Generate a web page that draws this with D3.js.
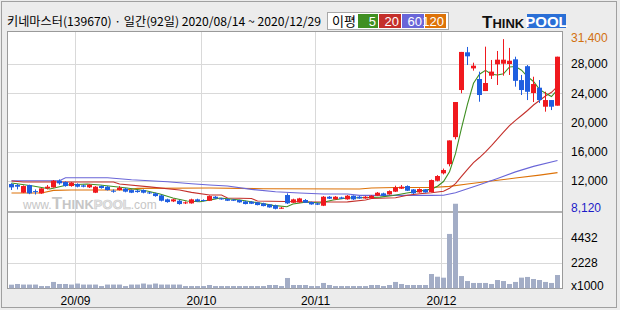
<!DOCTYPE html>
<html>
<head>
<meta charset="utf-8">
<script src="https://cdn.jsdelivr.net/npm/d3@7"></script>
<style>
body { margin: 0; background: #ececec; }
text { font-family: "Liberation Sans", Arial, sans-serif; }
</style>
</head>
<body>
<svg id="chart" width="620" height="310"></svg>
<script>
// daily candles 2020/08/14 ~ 2020/12/29 (92 trading days)
let opens = [11584,11450,10400,11450,10620,10310,10990,11130,12040,11860,
  11310,11580,11400,11130,10400,11310,11220,10670,10760,10950,
  10760,10670,10760,10440,10310,10030,9490,9210,9300,8940,
  8940,9490,9400,9300,9850,9620,9530,9440,9400,9210,
  9170,9080,8940,8800,8670,8250,10080,9030,9080,9400,
  9120,8940,8620,9850,9490,9760,9490,9990,9850,9620,
  9620,9990,10310,10170,10540,10950,11310,10850,10440,10850,
  10490,12030,13050,14300,18000,24440,29600,27400,25950,24300,
  26400,27960,28040,28000,28640,25800,27700,24030,24760,22160,
  23070,22300];
let highs = [11700,11600,11400,11500,10850,11000,11450,12130,12220,11950,
  11860,11680,11500,11580,11300,11400,11300,10850,11300,11040,
  10850,10760,10850,10540,10400,10120,9580,9580,9400,9210,
  9580,9580,9490,10030,9940,9700,9620,9530,9440,9300,
  9260,9120,9030,8850,8760,8440,10310,9580,9700,9530,
  9170,9030,9940,9940,9940,9850,10080,10030,9940,9940,
  10080,10490,10400,10720,11360,11450,11400,10900,10990,10900,
  12200,12800,13700,17550,22800,29650,30330,28180,26950,30370,
  28550,29780,31400,30200,29000,26500,27860,26260,25810,24210,
  23070,29000];
let lows = [10770,10850,10350,10200,10150,10250,10850,11100,11500,11220,
  11220,11130,11130,11040,10350,10950,10700,10400,10700,10450,
  10350,10400,10310,10220,9850,9210,9030,9120,8760,8850,
  8900,9120,9210,9260,9530,9440,9260,9260,9030,8800,
  8850,8670,8530,8350,8120,8200,8850,8990,9030,8990,
  8760,8710,8570,9530,9440,9530,9440,9400,9580,9580,
  9580,9940,9940,10120,10490,10900,10630,10220,10400,10400,
  10440,11950,12900,14000,17700,24000,27860,27090,22840,24300,
  25950,25130,26400,26500,24900,23760,23070,22800,22660,21480,
  21700,22300];
let closes = [11128,11220,11310,10310,10500,10990,11220,12040,11680,11310,
  11770,11220,11220,11500,11220,11040,10760,10540,11080,10540,
  10400,10490,10400,10310,9940,9300,9120,9490,8850,9080,
  9490,9210,9300,9940,9620,9490,9300,9300,9080,8850,
  8890,8710,8570,8390,8200,8350,8940,9490,9620,9030,
  8800,8760,9850,9580,9850,9580,9990,9490,9620,9850,
  9990,10400,9990,10620,11130,11220,10670,10310,10900,10440,
  12130,12680,13500,17550,22800,29650,29050,27770,23760,25400,
  26960,28590,28590,28450,25700,24440,24200,25260,23070,23070,
  22160,29000];
// volume, x1000 shares
let volumes = [320,380,330,330,330,200,200,560,380,380,
  330,420,330,330,330,200,330,330,330,200,
  330,330,420,330,420,330,330,330,330,200,
  200,200,200,290,200,200,200,200,200,200,
  200,200,200,290,290,200,910,290,290,290,
  200,200,470,290,200,200,200,200,200,200,
  290,290,200,290,560,380,290,290,290,290,
  1260,1020,935,4790,7450,1080,640,470,470,470,
  380,730,640,380,560,940,1000,820,730,560,
  470,1170];

// moving averages: [day index, price]
let ma5 = [[0,11720],[3.6,11310],[6.4,10900],[9.25,11450],[12.6,11580],[14.75,11450],
  [19.25,11040],[22.6,10630],[24.75,10220],[26.9,9670],[29.25,9260],[31.4,9160],
  [33.6,9490],[34.75,9670],[38.1,9400],[41.4,8985],[43.6,8670],[45.9,8480],
  [46.9,8850],[49.25,9120],[51.4,8985],[53.6,9400],[55.9,9670],[58.1,9710],
  [61.4,9800],[63.6,10010],[65.9,10350],[68.1,10630],[70,10890],[71,11290],
  [72,11930],[73,13260],[74,15730],[75,19240],[76,22510],[77,25360],[78,26610],
  [79,27130],[80,26590],[81,26500],[82,26660],[83,27600],[84,27660],[85,27150],
  [86,26280],[87,25610],[88,24530],[89,24010],[90,23550],[91,24510]];
let ma20 = [[0,12000],[2,11860],[17,11860],[18,11580],[23,11200],[28,10760],
  [30,10450],[33,10080],[35,10080],[36,9670],[40,9600],[41,9260],[50,9120],
  [56,9150],[59,9400],[60,9600],[64,9700],[66,10050],[68,10250],[70,10400],
  [72,10600],[73,11000],[74,11640],[75,12640],[76,13600],[77,14510],[78,15210],
  [79,15990],[80,16840],[81,17750],[82,18680],[83,19570],[84,20300],[85,20960],
  [86,21640],[87,22390],[88,23000],[89,23630],[90,24130],[91,24950]];
let ma60 = [[0,12030],[8,12030],[9,12440],[16,12440],[20,12170],[26,11900],
  [30,11630],[33,11450],[36,11310],[40,10850],[44,10520],[48,10350],[52,10220],
  [56,10220],[58,10040],[70,10040],[72,10050],[74,10400],[76,10950],[78,11500],
  [81,12350],[84,13250],[87,14000],[91,14800]];
let ma120 = [[0,10350],[5,10350],[7,10720],[10,10760],[19,10760],[21,10990],
  [33,11040],[42,10950],[58,10900],[60,11040],[64,11120],[70,11120],[73,11270],
  [76,11600],[80,12000],[84,12400],[88,12800],[91,13150]];

let priceTicks = [28000, 24000, 20000, 16000, 12000];
let volTicks = [4432, 2228];
let monthIdx = [11, 32, 51, 72];
let monthLabels = ["20/09", "20/10", "20/11", "20/12"];
let maNames = ["5", "20", "60", "120"];
let maColors = ["#3f8f22", "#c4302b", "#6a66d8", "#dd7208"];
let priceMax = 31400, priceMin = 8120;

let svg = d3.select("#chart");
let n = closes.length;

let x = d3.scaleLinear().domain([-0.5, n - 0.5]).range([8.5, 560.5]);
let y = d3.scaleLinear().domain([12000, 28000]).range([181, 64]);
let yv = d3.scaleLinear().domain([0, 4432]).range([288.3, 238]);

// frame
svg.append("rect").attr("x", 1.5).attr("y", 1.5).attr("width", 615).attr("height", 306)
    .attr("fill", "#ececec").attr("stroke", "#a0a0a0");
svg.append("rect").attr("x", 7.5).attr("y", 31.5).attr("width", 555).attr("height", 257)
    .attr("fill", "#fff").attr("stroke", "#9a9a9a");

// watermark
let wm = svg.append("text").attr("x", 23).attr("y", 209).attr("fill", "#c6c6c6");
wm.append("tspan").attr("font-size", 12).text("www.");
wm.append("tspan").attr("font-size", 17).attr("font-weight", "bold").text("T");
wm.append("tspan").attr("font-size", 13).attr("font-weight", "bold").text("HINK");
wm.append("tspan").attr("font-size", 13).attr("font-weight", "bold")
    .attr("fill", "#e6e6e6").attr("stroke", "#c8c8c8").attr("stroke-width", 0.6).text("POOL");
wm.append("tspan").attr("font-size", 12).text(".com");

// grid
let grid = svg.append("g").attr("stroke", "#d9d9d9").attr("stroke-width", 1);
monthIdx.forEach(function (m) {
    let gx = Math.round(x(m - 0.5)) + 0.5;
    grid.append("line").attr("x1", gx).attr("x2", gx).attr("y1", 32).attr("y2", 288);
});
priceTicks.forEach(function (t) {
    let gy = Math.round(y(t)) + 0.5;
    grid.append("line").attr("x1", 8).attr("x2", 562).attr("y1", gy).attr("y2", gy);
});
volTicks.forEach(function (t) {
    let gy = Math.round(yv(t)) + 0.5;
    grid.append("line").attr("x1", 8).attr("x2", 562).attr("y1", gy).attr("y2", gy);
});

// pane separator
svg.append("line").attr("x1", 8).attr("x2", 562).attr("y1", 212).attr("y2", 212)
    .attr("stroke", "#b2b2b2").attr("stroke-width", 2);

// moving averages (long ones first)
let line = d3.line().x(function (d) { return x(d[0]); }).y(function (d) { return y(d[1]); });
[ma120, ma60, ma20, ma5].forEach(function (s, k) {
    svg.append("path").datum(s).attr("d", line).attr("fill", "none")
        .attr("stroke", maColors[3 - k]).attr("stroke-width", 1.1);
});

// candles
let up = "#f0191e", down = "#1f5fe0";
let candles = svg.append("g").selectAll("g").data(d3.range(n)).enter().append("g");
candles.append("line")
    .attr("x1", function (i) { return x(i); })
    .attr("x2", function (i) { return x(i); })
    .attr("y1", function (i) { return y(highs[i]); })
    .attr("y2", function (i) { return y(lows[i]); })
    .attr("stroke", function (i) { return closes[i] >= opens[i] ? up : down; });
candles.append("rect")
    .attr("x", function (i) { return x(i) - 2.5; })
    .attr("width", 5)
    .attr("y", function (i) { return y(Math.max(opens[i], closes[i])); })
    .attr("height", function (i) { return Math.max(1, Math.abs(y(opens[i]) - y(closes[i]))); })
    .attr("fill", function (i) { return closes[i] >= opens[i] ? up : down; });

// volume
svg.append("g").selectAll("rect").data(volumes).enter().append("rect")
    .attr("x", function (d, i) { return x(i) - 2.5; })
    .attr("width", 5)
    .attr("y", function (d) { return yv(d); })
    .attr("height", function (d) { return yv(0) - yv(d); })
    .attr("fill", "#a3adc6");

// right axis labels
let lab = svg.append("g").attr("font-size", 12);
priceTicks.forEach(function (t) {
    lab.append("text").attr("x", 571).attr("y", y(t)).attr("dy", "0.36em")
        .attr("fill", "#000").text(d3.format(",")(t));
});
lab.append("text").attr("x", 571).attr("y", y(priceMax) - 1).attr("dy", "0.36em")
    .attr("fill", "#d2700f").text(d3.format(",")(priceMax));
lab.append("text").attr("x", 571).attr("y", y(priceMin) - 2).attr("dy", "0.36em")
    .attr("fill", "#1c1cc8").text(d3.format(",")(priceMin));
volTicks.forEach(function (t) {
    lab.append("text").attr("x", 571).attr("y", yv(t)).attr("dy", "0.36em").text(t);
});
lab.append("text").attr("x", 571).attr("y", 286).attr("dy", "0.36em").text("x1000");

// date labels
monthIdx.forEach(function (m, k) {
    svg.append("text").attr("x", x(m - 0.5) + 1).attr("y", 301).attr("dy", "0.36em")
        .attr("text-anchor", "middle").attr("font-size", 12).text(monthLabels[k]);
});

// title
svg.append("text").attr("x", 7).attr("y", 26)
    .style("font-family", "'Noto Sans CJK KR', sans-serif").attr("font-size", 12)
    .attr("textLength", 314).attr("lengthAdjust", "spacingAndGlyphs")
    .text("키네마스터(139670) · 일간(92일) 2020/08/14 ~ 2020/12/29");

// legend
svg.append("rect").attr("x", 327.5).attr("y", 12.5).attr("width", 121).attr("height", 17)
    .attr("fill", "#fff").attr("stroke", "#a8a8a8");
svg.append("text").attr("x", 332).attr("y", 26)
    .style("font-family", "'Noto Sans CJK KR', sans-serif").attr("font-size", 13).text("이평");
let legX = [358, 379, 402, 425], legW = [20, 22, 22, 21];
maNames.forEach(function (nm, k) {
    svg.append("rect").attr("x", legX[k]).attr("y", 14).attr("width", legW[k]).attr("height", 14)
        .attr("fill", maColors[k]);
    svg.append("text").attr("x", legX[k] + legW[k] - 2).attr("y", 25.5)
        .attr("text-anchor", "end").attr("font-size", 13).attr("fill", "#fff").text(nm);
});

// logo
let logo = svg.append("text").attr("x", 482).attr("y", 27.5).attr("font-weight", "bold").attr("fill", "#111");
logo.append("tspan").attr("font-size", 17).text("T");
logo.append("tspan").attr("font-size", 13).text("HINK");
svg.append("rect").attr("x", 527).attr("y", 14).attr("width", 39).attr("height", 14).attr("fill", "#2a6fd6");
svg.append("text").attr("x", 546.5).attr("y", 27).attr("text-anchor", "middle").attr("font-weight", "bold")
    .attr("font-size", 15).attr("fill", "#fff").text("POOL");
</script>
</body>
</html>
